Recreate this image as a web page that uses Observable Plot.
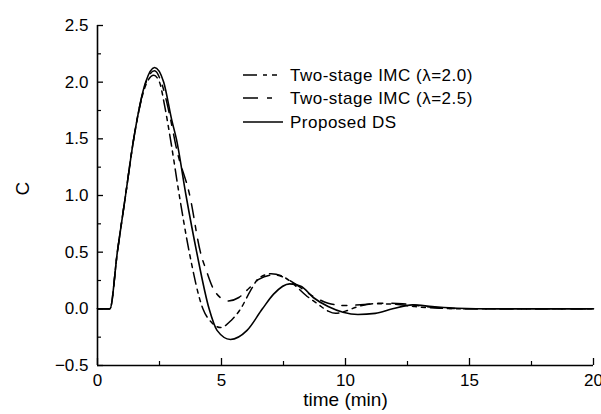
<!DOCTYPE html>
<html><head><meta charset="utf-8">
<script src="https://cdn.jsdelivr.net/npm/d3@7"></script>
<script src="https://cdn.jsdelivr.net/npm/@observablehq/plot@0.6"></script>
<style>
body{margin:0;background:#fff;font-family:"Liberation Sans",Arial,sans-serif;}
#wrap{position:relative;width:601px;height:414px;}
#legend{position:absolute;left:0;top:0;width:601px;height:414px;pointer-events:none;}
</style></head><body><div id="wrap"></div>
<script>
// Proposed DS (solid)
const tDS = [0, 0.5, 0.8, 1.13, 1.46, 1.94, 2.3, 2.67, 3.0, 3.18, 3.57, 4.0, 4.5, 4.82, 5.36, 6.03, 6.65, 7.1, 7.75, 8.2, 8.7, 9.3, 9.9, 10.5, 11.2, 11.9, 12.7, 13.5, 14.5, 16, 20];
const cDS = [0, 0, 0.5, 1.0, 1.5, 2.0, 2.13, 2.0, 1.66, 1.5, 1.0, 0.5, 0.0, -0.19, -0.27, -0.19, 0.0, 0.13, 0.22, 0.2, 0.1, 0.02, -0.03, -0.05, -0.04, 0.0, 0.035, 0.02, 0.005, 0, 0];
// Two-stage IMC (λ=2.0)
const tL20 = [0, 0.5, 0.8, 1.13, 1.46, 1.94, 2.27, 2.5, 2.7, 2.94, 3.3, 3.7, 4.25, 4.6, 4.96, 5.4, 5.77, 6.17, 6.5, 7.0, 7.6, 8.0, 8.4, 8.9, 9.3, 9.6, 10.0, 10.5, 11.2, 12.0, 12.8, 13.8, 15, 20];
const cL20 = [0, 0, 0.5, 1.0, 1.5, 1.97, 2.06, 2.0, 1.8, 1.5, 1.0, 0.5, 0.0, -0.12, -0.165, -0.1, 0.0, 0.16, 0.27, 0.31, 0.27, 0.2, 0.12, 0.04, -0.02, -0.04, -0.02, 0.02, 0.045, 0.04, 0.02, 0.005, 0, 0];
// Two-stage IMC (λ=2.5)
const tL25 = [0, 0.5, 0.8, 1.13, 1.46, 1.94, 2.3, 2.6, 2.9, 3.2, 3.72, 4.15, 4.4, 4.62, 4.95, 5.28, 5.7, 6.1, 6.5, 7.1, 7.5, 8.1, 8.7, 9.3, 9.9, 10.6, 11.5, 12.3, 13.2, 14.3, 16, 20];
const cL25 = [0, 0, 0.5, 1.0, 1.5, 1.99, 2.1, 1.98, 1.72, 1.4, 1.0, 0.5, 0.33, 0.2, 0.1, 0.07, 0.1, 0.18, 0.26, 0.30, 0.28, 0.2, 0.11, 0.05, 0.03, 0.035, 0.05, 0.045, 0.02, 0.003, 0, 0];

const xMajor = [0, 5, 10, 15, 20];
const xMinor = [2.5, 7.5, 12.5, 17.5];
const yMajor = [-0.5, 0.0, 0.5, 1.0, 1.5, 2.0, 2.5];
const yMinor = [-0.25, 0.25, 0.75, 1.25, 1.75, 2.25];
const xLabel = "time (min)";
const yLabel = "C";
const seriesNames = ["Two-stage IMC (\u03bb=2.0)", "Two-stage IMC (\u03bb=2.5)", "Proposed DS"];
const dashes = ["12,5,4,5,4,5", "14,8,5,9", null];
const legendDashes = ["14,6,4,5,5,6", "15,9,5,11", null];

const toRows = (ts, cs) => ts.map((t, i) => ({t, c: cs[i]}));
const dsData = toRows(tDS, cDS);
const l20Data = toRows(tL20, cL20);
const l25Data = toRows(tL25, cL25);

const W = 601, H = 414, mL = 97, mR = 8, mT = 25, mB = 49;
const fh = H - mT - mB;
const fw = W - mL - mR;

const plot = Plot.plot({
  width: W, height: H,
  marginLeft: mL, marginRight: mR, marginTop: mT, marginBottom: mB,
  style: {fontFamily: "'Liberation Sans', Arial, sans-serif", fontSize: "17px", background: "white", color: "black", overflow: "hidden"},
  x: {domain: [0, 20]},
  y: {domain: [-0.5, 2.5]},
  marks: [
    Plot.axisX({ticks: xMajor, tickSize: 0, tickPadding: 8, tickFormat: d => String(d), label: null, fontSize: 17}),
    Plot.axisY({ticks: yMajor, tickSize: 0, tickPadding: 9, tickFormat: d3.format(".1f"), label: null, fontSize: 17}),
    Plot.tickX(xMajor, {x: d => d, insetTop: fh - 7, stroke: "black", strokeWidth: 1.3}),
    Plot.tickX(xMinor, {x: d => d, insetTop: fh - 4, stroke: "black", strokeWidth: 1.2}),
    Plot.tickY(yMajor, {y: d => d, insetRight: fw - 6, stroke: "black", strokeWidth: 1.3}),
    Plot.tickY(yMinor, {y: d => d, insetRight: fw - 4, stroke: "black", strokeWidth: 1.2}),
    Plot.ruleX([0], {stroke: "black", strokeWidth: 1.6}),
    Plot.ruleY([-0.5], {stroke: "black", strokeWidth: 1.6}),
    Plot.line(l25Data, {x: "t", y: "c", curve: "monotone-x", stroke: "black", strokeWidth: 1.5, strokeDasharray: dashes[1]}),
    Plot.line(l20Data, {x: "t", y: "c", curve: "monotone-x", stroke: "black", strokeWidth: 1.5, strokeDasharray: dashes[0]}),
    Plot.line(dsData, {x: "t", y: "c", curve: "monotone-x", stroke: "black", strokeWidth: 1.6}),
    Plot.text([xLabel], {text: d => d, frameAnchor: "bottom", dy: 40, fontSize: 19, fill: "black"}),
    Plot.text([yLabel], {text: d => d, frameAnchor: "left", dx: -75, rotate: -90, fontSize: 19, fill: "black"})
  ]
});
document.getElementById("wrap").appendChild(plot);

// legend overlay
const ns = "http://www.w3.org/2000/svg";
const lg = document.createElementNS(ns, "svg");
lg.setAttribute("id", "legend");
lg.setAttribute("width", W); lg.setAttribute("height", H);
const rowsY = [75, 98, 122];
seriesNames.forEach((name, i) => {
  const ln = document.createElementNS(ns, "line");
  ln.setAttribute("x1", 243); ln.setAttribute("x2", 283);
  ln.setAttribute("y1", rowsY[i]); ln.setAttribute("y2", rowsY[i]);
  ln.setAttribute("stroke", "black"); ln.setAttribute("stroke-width", 1.6);
  if (legendDashes[i]) ln.setAttribute("stroke-dasharray", legendDashes[i]);
  lg.appendChild(ln);
  const tx = document.createElementNS(ns, "text");
  tx.setAttribute("x", 290); tx.setAttribute("y", rowsY[i]);
  tx.setAttribute("dy", "0.35em");
  tx.setAttribute("font-size", 17);
  tx.setAttribute("letter-spacing", "0.5");
  tx.setAttribute("font-family", "'Liberation Sans', Arial, sans-serif");
  tx.textContent = name;
  lg.appendChild(tx);
});
document.getElementById("wrap").appendChild(lg);
</script></body></html>
